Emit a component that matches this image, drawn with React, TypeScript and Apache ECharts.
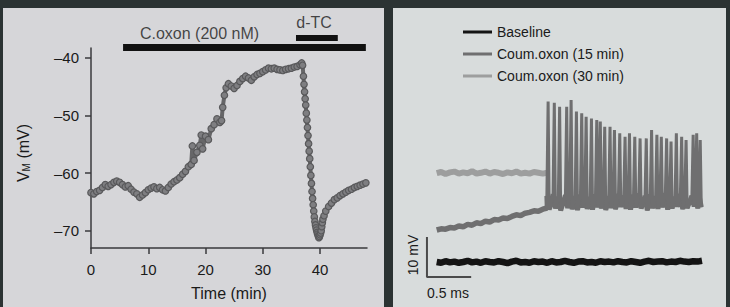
import React, { useEffect, useRef } from "react";
import * as echarts from "echarts";

const FONT = '"Liberation Sans", Arial, Helvetica, sans-serif';

// ---- Left panel: membrane potential vs time ----
const timeMin = [
  0, 0.5, 1, 1.5, 2, 2.5, 3, 3.5, 4, 4.5, 5, 5.5, 6, 6.5, 7, 7.5, 8, 8.5, 9, 9.5,
  10, 10.5, 11, 11.5, 12, 12.5, 13, 13.5, 14, 14.5, 15, 15.5, 16, 16.5, 17, 17.5,
  17.7, 18, 18.5, 19, 19.25, 19.5, 20, 20.5, 21, 21.5, 22, 22.5, 22.8, 23, 23.3, 23.6,
  24, 24.5, 25, 25.5, 26, 26.5, 27, 27.5, 28, 28.5, 29, 29.5, 30, 30.5, 31, 31.5,
  32, 32.5, 33, 33.5, 34, 34.5, 35, 35.5, 36, 36.5, 36.8, 36.95,
  37.1, 37.2, 37.3, 37.4, 37.5, 37.6, 37.7, 37.8, 37.9, 38.0,
  38.1, 38.2, 38.3, 38.4, 38.5, 38.6, 38.7, 38.8, 38.9, 39.0,
  39.1, 39.2, 39.3, 39.4, 39.5, 39.6, 39.7, 39.8, 39.9, 40.0,
  40.1, 40.2, 40.3, 40.4, 40.5, 40.7,
  41, 41.5, 42, 42.5, 43, 43.5, 44, 44.5, 45, 45.5, 46, 46.5, 47, 47.5, 48,
];
const vmMv = [
  -63.4, -63.6, -63.2, -63.0, -62.5, -62.0, -62.3, -62.0, -61.6, -61.4,
  -61.6, -62.0, -62.4, -62.2, -62.8, -63.3, -63.6, -64.2, -63.8, -63.4,
  -62.9, -62.6, -62.4, -62.7, -62.5, -62.9, -63.1, -62.5, -61.9, -61.5,
  -61.2, -60.8, -60.2, -59.7, -58.9, -58.5,
  -55.3, -57.8, -56.4, -55.2, -53.4, -55.8, -53.6, -54.2, -52.3, -51.6, -50.6, -51.2,
  -50.9, -48.6, -46.5, -45.2,
  -44.5, -44.9, -45.3, -44.8, -44.1, -43.6, -43.2, -43.5, -43.9, -43.3,
  -42.9, -42.7, -42.4, -42.1, -41.8, -41.9, -41.8, -42.0, -42.1, -42.2,
  -42.0, -41.9, -41.8, -41.6, -41.5, -41.2, -40.9, -41.3,
  -43.2, -44.6, -45.9, -47.1, -48.2, -49.6, -50.8, -52.1, -53.5, -54.9,
  -56.2, -57.5, -58.9, -60.4, -61.8, -63.2, -64.4, -65.5, -66.6, -67.6,
  -68.4, -69.0, -69.5, -69.9, -70.3, -70.6, -70.9, -71.2, -71.0, -70.7,
  -70.4, -70.0, -69.3, -68.6, -68.0, -67.4,
  -66.6, -65.8, -65.2, -64.6, -64.3, -63.9, -63.6, -63.3, -63.0, -62.8,
  -62.5, -62.3, -62.1, -61.9, -61.7,
];
const xTicks = [0, 10, 20, 30, 40];
const yTicks = [-70, -60, -50, -40];

// drug application bars (time in min)
const drugNames = ["C.oxon (200 nM)", "d-TC"];
const drugStart = [5.6, 35.8];
const drugEnd = [48.0, 43.1];
const drugLabelTime = [18.95, 38.95];

// ---- Right panel: example traces ----
const traceStepMs = 0.05;
const baselineMv = [
  4.5, 4.3, 4.7, 4.4, 4.6, 4.3, 4.5, 4.8, 4.4, 4.6, 4.3, 4.7, 4.5, 4.4, 4.7, 4.5,
  4.2, 4.6, 4.8, 4.4, 4.5, 4.3, 4.7, 4.5, 4.6, 4.3, 4.7, 4.4, 4.5, 4.8, 4.5, 4.3,
  4.6, 4.7, 4.4, 4.5, 4.3, 4.7, 4.5, 4.6, 4.4, 4.7, 4.5, 4.4, 4.7, 4.5, 4.3, 4.6,
  4.8, 4.5, 4.6, 4.7, 4.4, 4.6, 4.5, 4.8, 4.6, 4.5, 4.7, 4.6, 4.8,
];
const oxon30Mv = [
  26.7, 27.0, 26.5, 26.9, 27.1, 26.6, 26.9, 26.7, 27.2, 26.6, 26.8, 27.1, 26.6,
  27.0, 26.8, 26.5, 26.9, 26.7, 27.1, 26.6, 26.8, 26.6, 27.0, 26.8, 26.6, 26.8,
];
const oxon15RampMv = [
  12.5, 12.8, 12.7, 13.1, 13.0, 13.5, 13.3, 13.9, 13.7, 14.3, 14.1, 14.7, 14.5,
  15.1, 15.0, 15.5, 15.4, 15.9, 16.3, 16.1, 16.7, 16.9, 17.3, 17.2, 17.7, 18.0,
];
const spikeTimeMs = [
  1.26, 1.33, 1.39, 1.47, 1.52, 1.58, 1.64, 1.69, 1.75, 1.81, 1.85, 1.9, 1.96, 2.01,
  2.07, 2.13, 2.18, 2.24, 2.3, 2.37, 2.43, 2.49, 2.54, 2.6, 2.65, 2.71, 2.77, 2.82,
  2.9, 2.94, 2.98,
];
const spikePeakMv = [
  44.6, 44.3, 43.3, 43.3, 45.0, 42.1, 41.7, 40.8, 40.4, 40.0, 39.6, 38.3, 38.3, 37.5,
  36.7, 35.8, 36.7, 35.8, 35.4, 35.4, 37.5, 36.3, 35.8, 35.4, 34.6, 36.7, 35.8, 35.0,
  36.3, 36.7, 35.0,
];
const spikeThresholdMv = [
  21.0, 21.4, 20.8, 21.2, 21.5, 20.9, 21.3, 21.1, 20.7, 21.4, 21.0, 21.6, 20.9, 21.2,
  21.5, 21.1, 20.8, 21.3, 21.6, 21.0, 21.4, 20.9, 21.2, 21.7, 21.1, 20.8, 21.5, 21.3,
  21.0, 21.6, 21.2,
];
const spikeTroughMv = [
  17.6, 17.9, 17.4, 18.0, 17.7, 17.5, 18.1, 17.8, 17.6, 18.2, 17.9, 17.5, 18.0, 17.7,
  18.3, 17.8, 17.6, 18.1, 17.9, 17.4, 18.0, 17.8, 18.2, 17.6, 17.9, 18.3, 17.7, 18.0,
  18.4, 17.9, 18.2,
];
// scale bar: 0.5 ms x 10 mV
const scaleBarMs = [-0.11, -0.11, 0.39];
const scaleBarMv = [10.75, 0.75, 0.75];

const legendNames = ["Baseline", "Coum.oxon (15 min)", "Coum.oxon (30 min)"];
const traceColors = ["#141414", "#6f6f70", "#9d9e9e"];

const fmtMinus = (v: number) => (v < 0 ? "\u2013" + Math.abs(v) : String(v));

export default function App() {
  const ref = useRef<HTMLDivElement>(null);

  useEffect(() => {
    if (!ref.current) return;
    const chart = echarts.init(ref.current, undefined, { renderer: "svg" });

    const axisColor = "#3a3a3c";
    const textColor = "#1a1a1a";

    const vmData = timeMin.map((t, i) => [t, vmMv[i]]);
    const barSeries = drugNames.map((n, i) => ({
      type: "line",
      name: n,
      xAxisIndex: 1,
      yAxisIndex: 1,
      data: [
        [drugStart[i], i === 0 ? 47.5 : 38],
        [drugEnd[i], i === 0 ? 47.5 : 38],
      ],
      symbol: "none",
      lineStyle: { color: "#111", width: i === 0 ? 7 : 6, cap: "butt" },
      silent: true,
      z: 3,
    }));
    const labelSeries = {
      type: "scatter",
      xAxisIndex: 1,
      yAxisIndex: 1,
      symbolSize: 1,
      itemStyle: { color: "rgba(0,0,0,0)" },
      data: drugNames.map((n, i) => ({
        name: n,
        value: [drugLabelTime[i], i === 0 ? 33 : 22],
      })),
      label: {
        show: true,
        position: "inside",
        formatter: (p: any) => p.name,
        fontSize: 16,
        color: textColor,
        fontFamily: FONT,
      },
      silent: true,
    };

    const baseData = baselineMv.map((v, i) => [i * traceStepMs, v]);
    const o30Data = oxon30Mv.map((v, i) => [i * traceStepMs, v]);
    const rampData = oxon15RampMv.map((v, i) => [i * traceStepMs, v]);
    const spikeData: number[][] = [rampData[rampData.length - 1]];
    const interSpikeData: number[][] = [rampData[rampData.length - 1]];
    spikeTimeMs.forEach((t, i) => {
      spikeData.push([t - 0.014, spikeThresholdMv[i]]);
      spikeData.push([t, spikePeakMv[i]]);
      spikeData.push([t + 0.012, spikeTroughMv[i]]);
      interSpikeData.push([t - 0.014, spikeThresholdMv[i]]);
      interSpikeData.push([t + 0.012, spikeTroughMv[i]]);
    });

    const option: any = {
      animation: false,
      backgroundColor: "#2b3333",
      textStyle: { fontFamily: FONT },
      graphic: [
        { type: "rect", z: -10, shape: { x: 3, y: 8, width: 381, height: 299 }, style: { fill: "#d6d6d9" } },
        { type: "rect", z: -10, shape: { x: 393, y: 8, width: 333, height: 299 }, style: { fill: "#d8dcdc" } },
        {
          type: "text",
          x: 21,
          y: 153,
          rotation: Math.PI / 2,
          style: {
            text: "{v|V}{s|M}{v| (mV)}",
            align: "center",
            verticalAlign: "middle",
            fill: textColor,
            fontFamily: FONT,
            rich: {
              v: { fontSize: 16, lineHeight: 20, verticalAlign: "bottom", fontFamily: FONT, fill: textColor },
              s: { fontSize: 10, lineHeight: 10, verticalAlign: "bottom", fontFamily: FONT, fill: textColor },
            },
          },
        },
        {
          type: "text",
          x: 413,
          y: 255,
          rotation: Math.PI / 2,
          style: { text: "10 mV", align: "center", verticalAlign: "middle", font: '14px "Liberation Sans", Arial, sans-serif', fill: textColor },
        },
        {
          type: "text",
          x: 448,
          y: 293,
          style: { text: "0.5 ms", align: "center", verticalAlign: "middle", font: '14px "Liberation Sans", Arial, sans-serif', fill: textColor },
        },
      ],
      legend: {
        data: legendNames,
        orient: "vertical",
        left: 458,
        top: 19,
        icon: "rect",
        itemWidth: 29,
        itemHeight: 3,
        itemGap: 6,
        textStyle: { fontSize: 14, color: textColor, fontFamily: FONT, lineHeight: 16 },
        selectedMode: false,
      },
      grid: [
        { left: 91, top: 48, width: 276, height: 200 },
        { left: 91, top: 0, width: 276, height: 60 },
        { left: 419, top: 90, width: 283, height: 190 },
      ],
      xAxis: [
        {
          gridIndex: 0,
          type: "value",
          min: 0,
          max: 48.2,
          axisLine: { show: true, onZero: false, lineStyle: { color: axisColor, width: 1.5 } },
          axisTick: { show: true, length: 6, customValues: xTicks, lineStyle: { color: axisColor, width: 1.5 } },
          axisLabel: { customValues: xTicks, margin: 14, fontSize: 15, color: textColor, fontFamily: FONT },
          splitLine: { show: false },
          name: "Time (min)",
          nameLocation: "middle",
          nameGap: 37,
          nameTextStyle: { fontSize: 16, color: textColor, fontFamily: FONT },
        },
        { gridIndex: 1, type: "value", min: 0, max: 48.2, show: false },
        { gridIndex: 2, type: "value", min: -0.2, max: 3.0, show: false },
      ],
      yAxis: [
        {
          gridIndex: 0,
          type: "value",
          min: -73,
          max: -38.3,
          axisLine: { show: true, onZero: false, lineStyle: { color: axisColor, width: 1.5 } },
          axisTick: { show: true, length: 6, customValues: yTicks, lineStyle: { color: axisColor, width: 1.5 } },
          axisLabel: {
            customValues: yTicks,
            margin: 12,
            fontSize: 15,
            color: textColor,
            fontFamily: FONT,
            formatter: fmtMinus,
          },
          splitLine: { show: false },
        },
        { gridIndex: 1, type: "value", min: 0, max: 60, inverse: true, show: false },
        { gridIndex: 2, type: "value", min: 0, max: 47.5, show: false },
      ],
      series: [
        {
          type: "line",
          name: "VM",
          xAxisIndex: 0,
          yAxisIndex: 0,
          data: vmData,
          symbol: "circle",
          symbolSize: 6.5,
          showAllSymbol: true,
          lineStyle: { color: "#666668", width: 4 },
          itemStyle: { color: "#7e7e81", borderColor: "#59595b", borderWidth: 1.2 },
          silent: true,
        },
        ...barSeries,
        labelSeries,
        {
          type: "line",
          name: legendNames[2],
          xAxisIndex: 2,
          yAxisIndex: 2,
          data: o30Data,
          symbol: "none",
          lineStyle: { color: traceColors[2], width: 6 },
          itemStyle: { color: traceColors[2] },
          silent: true,
        },
        {
          type: "line",
          name: legendNames[1],
          xAxisIndex: 2,
          yAxisIndex: 2,
          data: rampData,
          symbol: "none",
          lineStyle: { color: traceColors[1], width: 5.5 },
          itemStyle: { color: traceColors[1] },
          silent: true,
        },
        {
          type: "line",
          name: legendNames[1],
          xAxisIndex: 2,
          yAxisIndex: 2,
          data: interSpikeData,
          symbol: "none",
          lineStyle: { color: traceColors[1], width: 5 },
          itemStyle: { color: traceColors[1] },
          silent: true,
        },
        {
          type: "line",
          name: legendNames[1],
          xAxisIndex: 2,
          yAxisIndex: 2,
          data: spikeData,
          symbol: "none",
          lineStyle: { color: traceColors[1], width: 3, join: "miter" },
          itemStyle: { color: traceColors[1] },
          silent: true,
        },
        {
          type: "line",
          name: legendNames[0],
          xAxisIndex: 2,
          yAxisIndex: 2,
          data: baseData,
          symbol: "none",
          lineStyle: { color: traceColors[0], width: 6.5 },
          itemStyle: { color: traceColors[0] },
          silent: true,
        },
        {
          type: "line",
          name: "scale",
          xAxisIndex: 2,
          yAxisIndex: 2,
          data: scaleBarMs.map((t, i) => [t, scaleBarMv[i]]),
          symbol: "none",
          lineStyle: { color: "#4a4a4a", width: 2 },
          silent: true,
        },
      ],
    };

    chart.setOption(option);
    return () => chart.dispose();
  }, []);

  return (
    <div
      ref={ref}
      style={{ position: "absolute", left: 0, top: 0, width: 730, height: 307 }}
    />
  );
}
